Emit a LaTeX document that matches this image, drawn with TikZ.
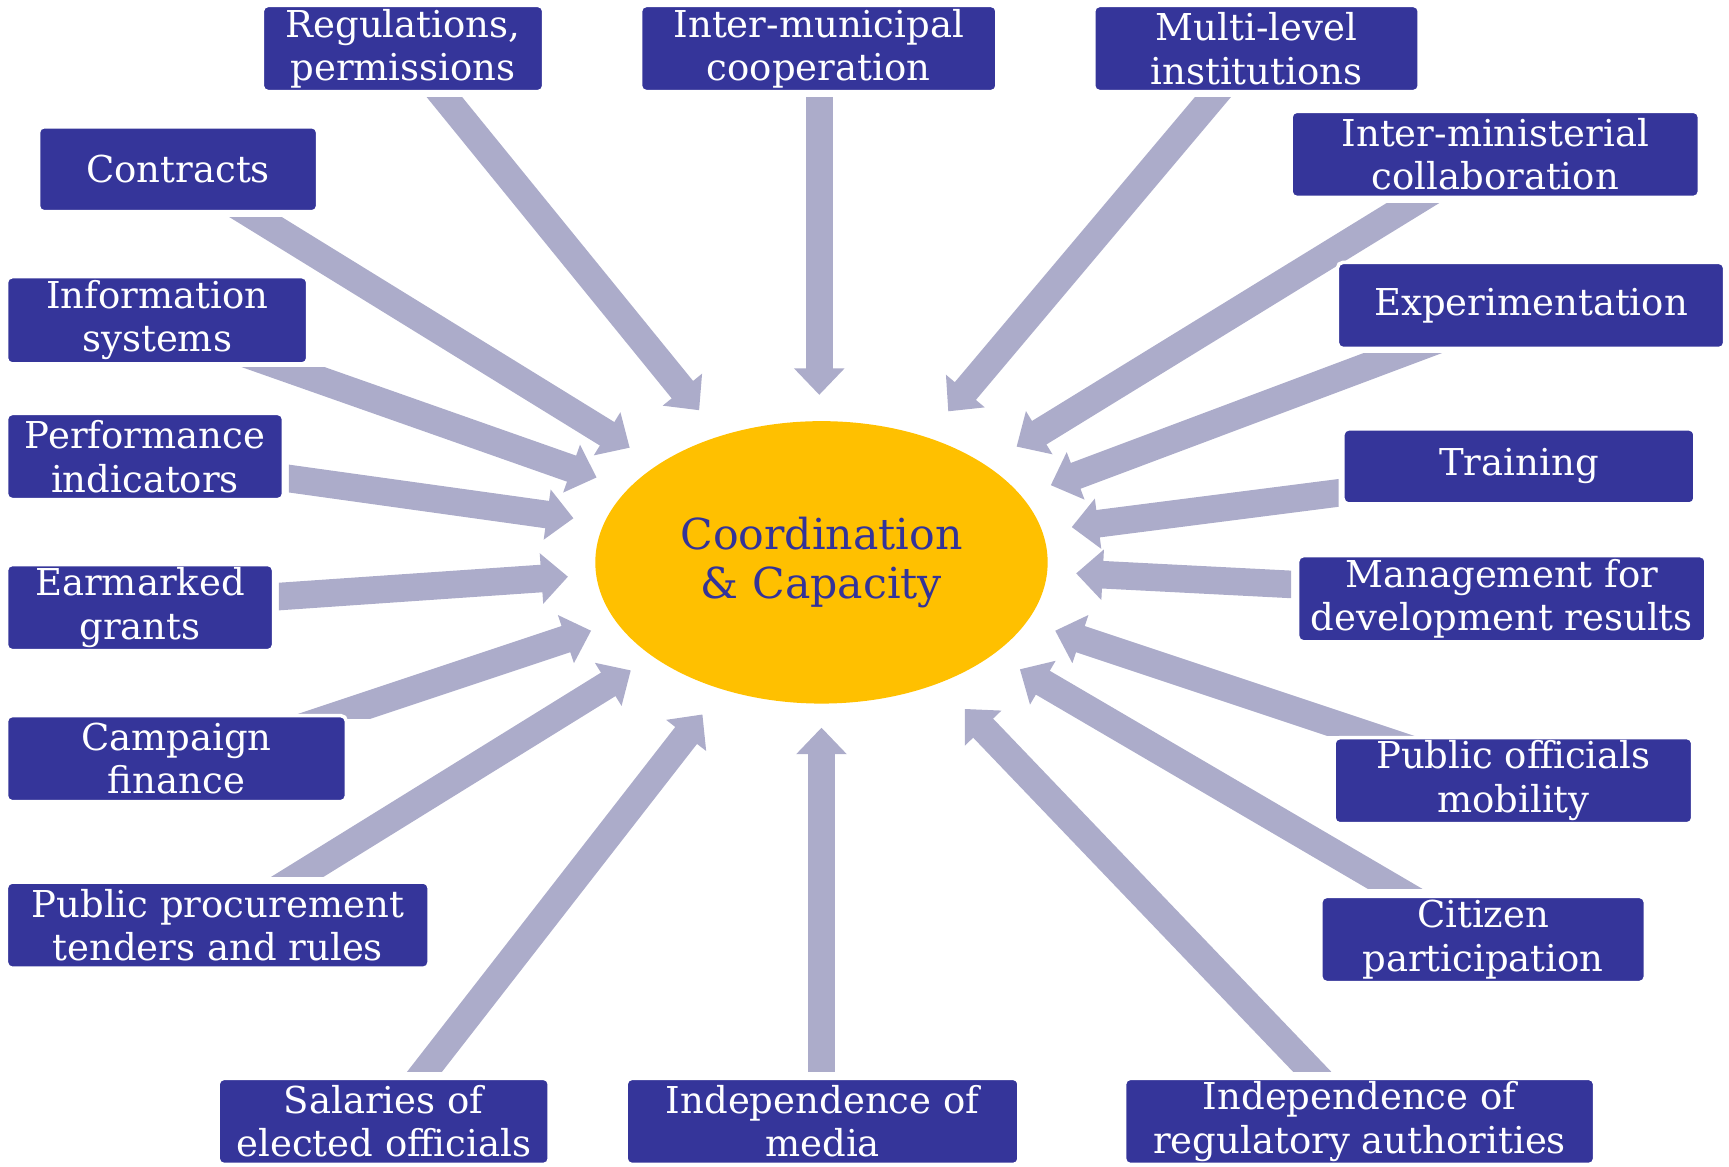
\documentclass[tikz,border=0pt]{standalone}
\usepackage{fontspec}
\setmainfont{DejaVu Serif}
\usetikzlibrary{calc,shapes.geometric,backgrounds}

\definecolor{boxblue}{HTML}{35359A}
\definecolor{feedgrey}{HTML}{ACACCA}
\definecolor{coregold}{HTML}{FFC000}
\definecolor{coretext}{HTML}{333399}

\tikzset{
  lever/.style={fill=boxblue, draw=white, line width=0.9pt, rounded corners=0.05cm,
    text=white, align=center, inner sep=0pt,
    font=\fontsize{9.55}{11.2}\selectfont},
  core/.style={ellipse, fill=coregold, inner sep=0pt, text=coretext, align=center,
    minimum width=4.1cm, minimum height=2.56cm,
    font=\fontsize{11}{12.8}\selectfont},
  shaft/.style={draw=feedgrey, line width=0.25cm},
  headfill/.style={fill=feedgrey},
}

% block arrow: #1 tail, #2 tip, #3 clip region that cuts the tail end
\newcommand\feed[3]{%
  \begin{scope}
    \clip #3;
    \draw[shaft] ($(#1)!-0.6cm!(#2)$) -- ($(#2)!0.22cm!(#1)$);
  \end{scope}
  \path ($(#2)!0.24cm!(#1)$) coordinate (neck);
  \fill[headfill] ($(neck)!0.23cm!90:(#2)$) -- (#2) -- ($(neck)!0.23cm!-90:(#2)$) -- cycle;
}

\begin{document}
\begin{tikzpicture}[x=0.01cm, y=-0.01cm]
  \useasboundingbox (0,0) rectangle (1568,1058);
  \coordinate (nw) at (0,0);
  \coordinate (se) at (1568,1058);

  % centre
  \node[core] (cc) at (745,510) {Coordination\\\& Capacity};

  % surrounding levers
  \node[lever, minimum width=2.55cm, minimum height=0.78cm] (reg)  at (365.5,44)  {Regulations,\\permissions};
  \node[lever, minimum width=3.23cm, minimum height=0.78cm] (imc)  at (742.5,44)  {Inter-municipal\\cooperation};
  \node[lever, minimum width=2.95cm, minimum height=0.78cm] (mli)  at (1139.5,44) {Multi-level\\institutions};
  \node[lever, minimum width=3.70cm, minimum height=0.78cm] (imin) at (1356,140)  {Inter-ministerial\\collaboration};
  \node[lever, minimum width=3.51cm, minimum height=0.78cm] (exp)  at (1388.5,277) {Experimentation};
  \node[lever, minimum width=3.19cm, minimum height=0.68cm] (trn)  at (1377.5,423) {Training};
  \node[lever, minimum width=3.70cm, minimum height=0.78cm] (mdr)  at (1362,543)  {Management for\\development results};
  \node[lever, minimum width=3.25cm, minimum height=0.78cm] (pom)  at (1372.5,708) {Public officials\\mobility};
  \node[lever, minimum width=2.94cm, minimum height=0.78cm] (cit)  at (1345,852)  {Citizen\\participation};
  \node[lever, minimum width=4.26cm, minimum height=0.78cm] (ira)  at (1233,1017) {Independence of\\regulatory authorities};
  \node[lever, minimum width=3.56cm, minimum height=0.78cm] (ime)  at (746,1017)  {Independence of\\media};
  \node[lever, minimum width=3.00cm, minimum height=0.78cm] (sal)  at (348,1017)  {Salaries of\\elected officials};
  \node[lever, minimum width=3.83cm, minimum height=0.78cm] (ppt)  at (197.5,839) {Public procurement\\tenders and rules};
  \node[lever, minimum width=3.08cm, minimum height=0.78cm] (cf)   at (160,688)   {Campaign\\finance};
  \node[lever, minimum width=2.42cm, minimum height=0.78cm] (eg)   at (127,551)   {Earmarked\\grants};
  \node[lever, minimum width=2.51cm, minimum height=0.78cm] (pi)   at (131.5,414) {Performance\\indicators};
  \node[lever, minimum width=2.73cm, minimum height=0.79cm] (is)   at (142.5,290.5) {Information\\systems};
  \node[lever, minimum width=2.53cm, minimum height=0.77cm] (con)  at (161.5,153.5) {Contracts};

  % arrow tails and tips
  \coordinate (reg-t)  at (403,88);   \coordinate (reg-p)  at (634,372);
  \coordinate (imc-t)  at (743,88);   \coordinate (imc-p)  at (743,358);
  \coordinate (mli-t)  at (1100,88);  \coordinate (mli-p)  at (860,373);
  \coordinate (imin-t) at (1280,185); \coordinate (imin-p) at (922,405);
  \coordinate (exp-t)  at (1270,321); \coordinate (exp-p)  at (953,440);
  \coordinate (trn-t)  at (1214,447); \coordinate (trn-p)  at (972,478);
  \coordinate (mdr-t)  at (1171,530); \coordinate (mdr-p)  at (976,520);
  \coordinate (pom-t)  at (1242,667); \coordinate (pom-p)  at (957,572);
  \coordinate (cit-t)  at (1265,806); \coordinate (cit-p)  at (925,607);
  \coordinate (ira-t)  at (1190,972); \coordinate (ira-p)  at (875,643);
  \coordinate (ime-t)  at (745,972);  \coordinate (ime-p)  at (745,660);
  \coordinate (sal-t)  at (385,972);  \coordinate (sal-p)  at (637,648);
  \coordinate (ppt-t)  at (270,795);  \coordinate (ppt-p)  at (572,608);
  \coordinate (cf-t)   at (296,652);  \coordinate (cf-p)   at (536,572);
  \coordinate (eg-t)   at (253,541);  \coordinate (eg-p)   at (515,523);
  \coordinate (pi-t)   at (262,434);  \coordinate (pi-p)   at (520,470);
  \coordinate (is-t)   at (257,333);  \coordinate (is-p)   at (541,433);
  \coordinate (con-t)  at (232,197);  \coordinate (con-p)  at (571,406);

  \begin{scope}[on background layer]
    % tails cut by a horizontal line above
    \feed{reg-t}{reg-p}{(nw |- reg-t) rectangle (se)}
    \feed{imc-t}{imc-p}{(nw |- imc-t) rectangle (se)}
    \feed{mli-t}{mli-p}{(nw |- mli-t) rectangle (se)}
    \feed{imin-t}{imin-p}{(nw |- imin-t) rectangle (se)}
    \feed{exp-t}{exp-p}{(nw |- exp-t) rectangle (se)}
    \feed{is-t}{is-p}{(nw |- is-t) rectangle (se)}
    \feed{con-t}{con-p}{(nw |- con-t) rectangle (se)}
    % tails cut by a horizontal line below
    \feed{pom-t}{pom-p}{(nw) rectangle (se |- pom-t)}
    \feed{cit-t}{cit-p}{(nw) rectangle (se |- cit-t)}
    \feed{ira-t}{ira-p}{(nw) rectangle (se |- ira-t)}
    \feed{ime-t}{ime-p}{(nw) rectangle (se |- ime-t)}
    \feed{sal-t}{sal-p}{(nw) rectangle (se |- sal-t)}
    \feed{ppt-t}{ppt-p}{(nw) rectangle (se |- ppt-t)}
    \feed{cf-t}{cf-p}{(nw) rectangle (se |- cf-t)}
    % tails cut by a vertical line
    \feed{trn-t}{trn-p}{(nw) rectangle (se -| trn-t)}
    \feed{mdr-t}{mdr-p}{(nw) rectangle (se -| mdr-t)}
    \feed{eg-t}{eg-p}{(nw -| eg-t) rectangle (se)}
    \feed{pi-t}{pi-p}{(nw -| pi-t) rectangle (se)}
  \end{scope}
\end{tikzpicture}
\end{document}
